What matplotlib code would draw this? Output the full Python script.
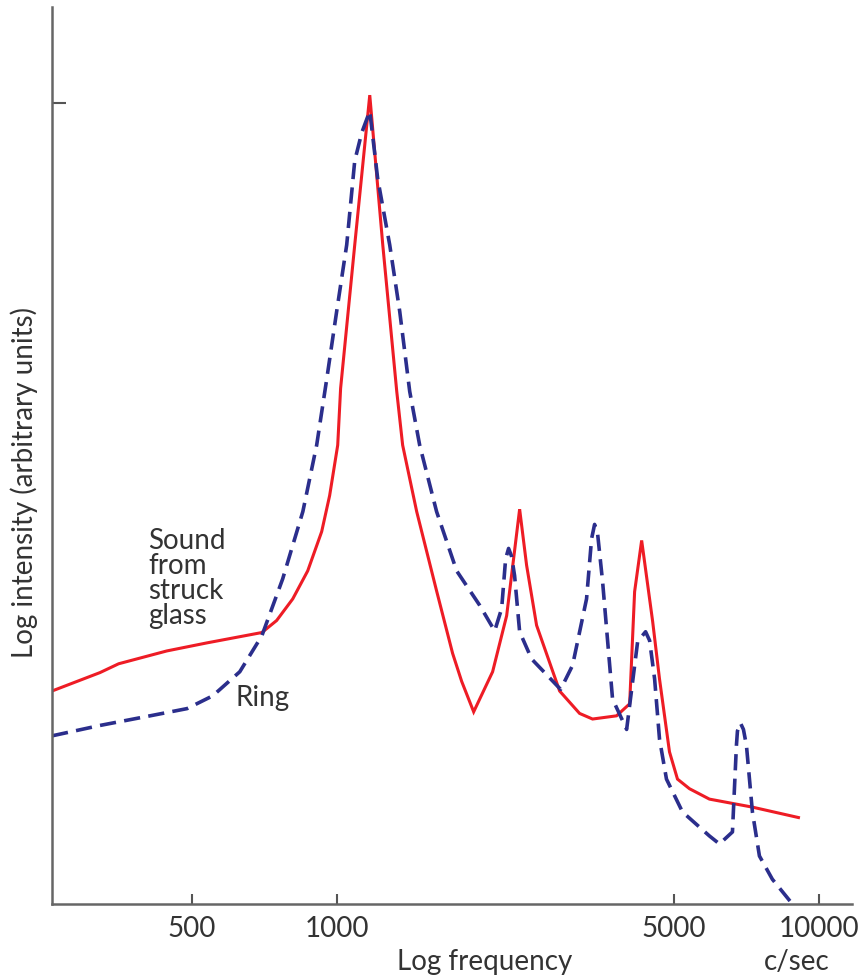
import matplotlib
matplotlib.use("Agg")
import matplotlib.pyplot as plt

# struck glass: frequency (c/sec) and log intensity (arbitrary units)
glass_freq = [256, 322, 352, 443, 536, 698, 749, 809, 869, 929, 965, 1003,
              1017, 1088, 1169, 1244, 1330, 1368, 1463, 1609, 1737, 1814, 1921,
              2103, 2249, 2393, 2474, 2595, 2897, 3187, 3391, 3803, 4049, 4146,
              4288, 4519, 4670, 4898, 5089, 5389, 5929, 7281, 9073]
glass_int = [2.66, 2.89, 3.00, 3.16, 3.26, 3.39, 3.54, 3.81, 4.16, 4.65, 5.10, 5.73,
             6.44, 8.23, 10.10, 8.23, 6.40, 5.73, 4.90, 3.91, 3.13, 2.78, 2.40,
             2.90, 3.60, 4.93, 4.23, 3.48, 2.66, 2.38, 2.31, 2.35, 2.50, 3.90,
             4.54, 3.53, 2.81, 1.90, 1.56, 1.44, 1.31, 1.21, 1.08]

# ring
ring_freq = [256, 322, 409, 488, 552, 628, 698, 771, 849, 907, 952, 998,
             1047, 1088, 1125, 1169, 1214, 1286, 1349, 1415, 1484, 1609, 1771,
             1977, 2124, 2196, 2238, 2270, 2303, 2336, 2393, 2534, 2911, 3082,
             3295, 3375, 3424, 3473, 3557, 3731, 3991, 4207, 4288, 4369, 4454,
             4562, 4670, 4828, 5212, 5929, 6220, 6618, 6745, 6778, 6876, 6975,
             7076, 7281, 7529, 8008, 8815]
ring_int = [2.10, 2.23, 2.35, 2.44, 2.60, 2.90, 3.35, 4.06, 4.90, 5.73, 6.56, 7.40,
            8.23, 9.28, 9.63, 9.90, 9.06, 8.23, 7.40, 6.40, 5.73, 4.90, 4.16,
            3.73, 3.41, 3.69, 4.31, 4.44, 4.34, 4.10, 3.40, 3.06, 2.68, 2.98,
            3.81, 4.56, 4.74, 4.63, 4.03, 2.56, 2.18, 3.28, 3.34, 3.40, 3.29,
            2.81, 2.06, 1.56, 1.15, 0.85, 0.75, 0.90, 1.98, 2.16, 2.26, 2.18,
            1.98, 1.15, 0.60, 0.31, 0.00]

freq_ticks = [500, 1000, 5000, 10000]
int_ticks = [10]

txt = '#333333'
plt.rcParams['font.family'] = ['Lato', 'DejaVu Sans']

fig = plt.figure(figsize=(8.6, 9.78), dpi=100)
ax = fig.add_axes([0.0605, 0.0746, 0.930, 0.9172])

ax.plot(glass_freq, glass_int, color='#ee1c25', lw=2.2, solid_joinstyle='miter')
ax.plot(ring_freq, ring_int, color='#2b2e8c', lw=2.6, dashes=(4.5, 2.3),
        dash_joinstyle='round')

ax.set_xscale('log')
ax.set_xlim(256, 11710)
ax.set_ylim(0, 11.2)

ax.set_xticks(freq_ticks)
ax.set_xticklabels([str(f) for f in freq_ticks])
ax.xaxis.set_minor_locator(matplotlib.ticker.NullLocator())
ax.set_yticks(int_ticks)
ax.set_yticklabels([])

ax.tick_params(axis='x', direction='in', length=7, width=1.5, color='#555555',
               labelsize=20, labelcolor=txt, pad=8)
ax.tick_params(axis='y', direction='in', length=10, width=1.5, color='#555555')

for side in ('top', 'right'):
    ax.spines[side].set_visible(False)
for side in ('left', 'bottom'):
    ax.spines[side].set_color('#666666')
    ax.spines[side].set_linewidth(1.8)

fig.text(24 / 860, 1 - 483 / 978, 'Log intensity (arbitrary units)', fontsize=20,
         color=txt, rotation=90, ha='center', va='center')
fig.text(485 / 860, 1 - 962 / 978, 'Log frequency', fontsize=20, color=txt,
         ha='center', va='center')
fig.text(797 / 860, 1 - 962 / 978, 'c/sec', fontsize=20, color=txt,
         ha='center', va='center')

fig.text(148 / 860, 1 - 528 / 978, 'Sound\nfrom\nstruck\nglass', fontsize=20,
         color=txt, ha='left', va='top', linespacing=0.95)
fig.text(236 / 860, 1 - 698 / 978, 'Ring', fontsize=20, color=txt,
         ha='left', va='center')

fig.savefig('out.png', dpi=100)
